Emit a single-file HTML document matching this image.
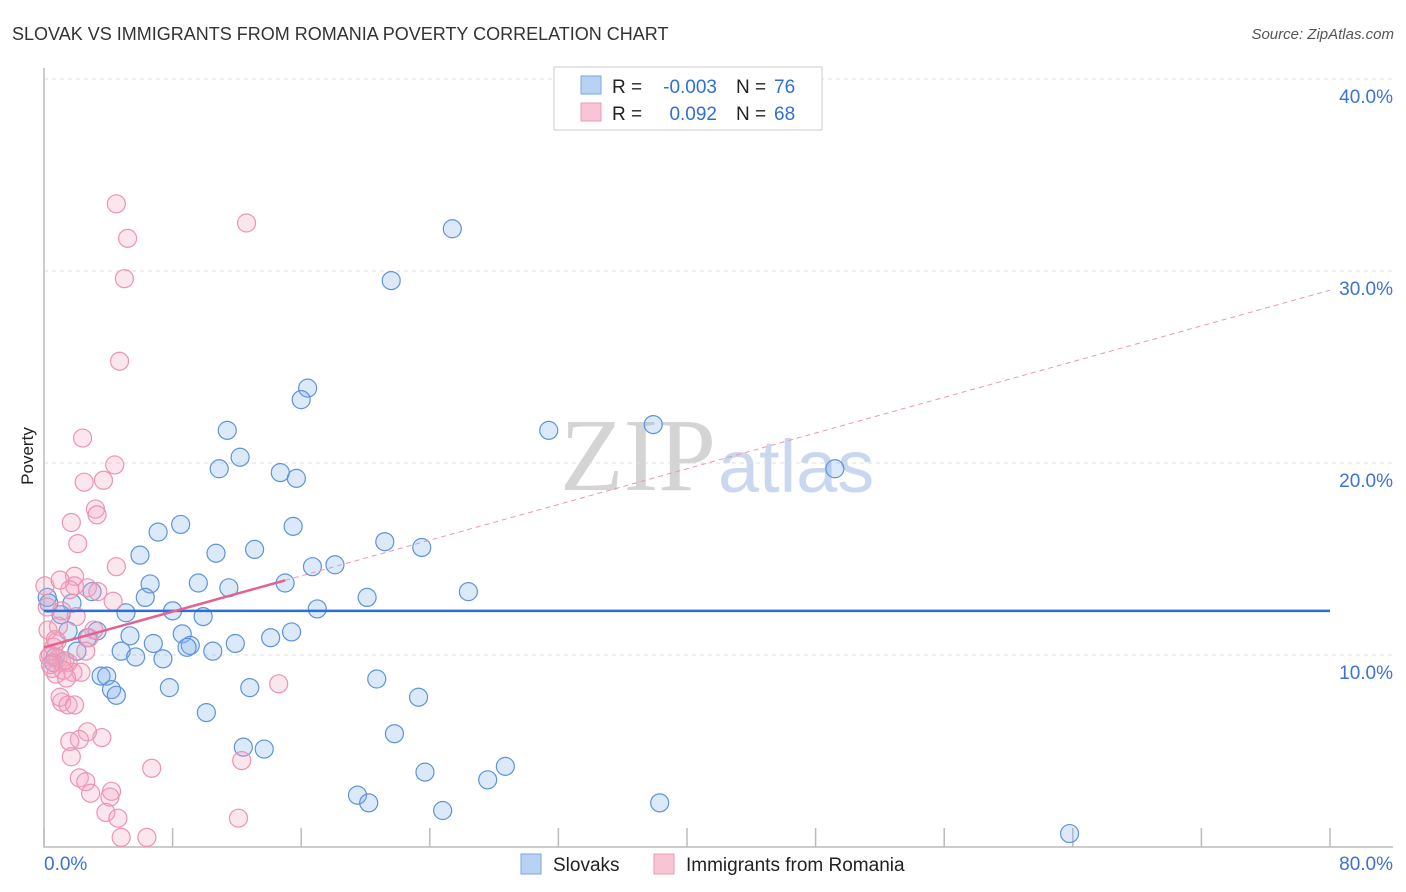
<!DOCTYPE html>
<html><head><meta charset="utf-8"><style>
body{margin:0;background:#fff;font-family:"Liberation Sans",sans-serif}
svg{display:block}
</style></head><body>
<svg width="1406" height="892" xmlns="http://www.w3.org/2000/svg">
<text x="12" y="40" font-size="18" fill="#333">SLOVAK VS IMMIGRANTS FROM ROMANIA POVERTY CORRELATION CHART</text>
<text x="1394" y="39" font-size="15" fill="#555" font-style="italic" text-anchor="end">Source: ZipAtlas.com</text>
<text x="716" y="490" font-size="104" fill="#d4d4d4" text-anchor="end" font-family="Liberation Serif">ZIP</text>
<text x="718" y="492" font-size="74" fill="#c9d8ee">atlas</text>
<g id="grid"></g>
<g id="axes"></g>
<g id="pts"></g>
<g id="lines"></g>
<text transform="translate(33,456) rotate(-90)" font-size="17" fill="#222" text-anchor="middle">Poverty</text>
<g>
<rect x="554" y="67" width="268" height="63" fill="#fff" stroke="#ccc"/>
<rect x="581" y="76" width="20" height="18" fill="#b8d2f3" stroke="#7aa6e0"/>
<rect x="581" y="103" width="20" height="18" fill="#f8c5d5" stroke="#eb9ab4"/>
<text x="612" y="93" font-size="19" fill="#222">R =</text>
<text x="717" y="93" font-size="19" fill="#2f6fd6" text-anchor="end">-0.003</text>
<text x="736" y="93" font-size="19" fill="#222">N =</text>
<text x="774" y="93" font-size="19" fill="#2f6fd6">76</text>
<text x="612" y="120" font-size="19" fill="#222">R =</text>
<text x="717" y="120" font-size="19" fill="#2f6fd6" text-anchor="end">0.092</text>
<text x="736" y="120" font-size="19" fill="#222">N =</text>
<text x="774" y="120" font-size="19" fill="#2f6fd6">68</text>
</g>
<g>
<rect x="521" y="854" width="20" height="20" fill="#b8d2f3" stroke="#7aa6e0"/>
<text x="553" y="871" font-size="19" fill="#222">Slovaks</text>
<rect x="654" y="854" width="20" height="20" fill="#f8c5d5" stroke="#eb9ab4"/>
<text x="686" y="871" font-size="19" fill="#222">Immigrants from Romania</text>
</g>
</svg>
<script>
const xTicks=[0,10,20,30,40,50,60,70,80];
const yTicks=[10,20,30,40];
const blueX=[25.4,21.6,16.4,16.0,11.4,31.4,37.9,12.2,10.9,14.7,15.7,49.2,8.5,7.1,15.5,5.97,10.7,13.1,21.2,23.5,16.7,18.1,6.6,9.6,11.5,15.0,2.99,6.3,26.4,20.1,1.74,5.1,8.0,9.9,17.0,1.06,1.5,3.3,2.7,5.35,8.6,6.8,9.1,11.9,14.1,15.4,2.05,4.8,5.7,7.4,8.9,10.5,0.7,3.55,3.9,4.2,4.5,7.8,12.8,20.7,23.3,10.1,12.4,13.7,21.8,23.7,27.6,28.7,19.5,20.2,24.8,38.3,63.8,0.3,0.2,0.6];
const blueY=[32.2,29.5,23.9,23.3,21.7,21.7,22.0,20.3,19.7,19.5,19.2,19.7,16.8,16.4,16.7,15.2,15.3,15.5,15.9,15.6,14.6,14.7,13.7,13.75,13.5,13.75,13.3,13.0,13.3,13.0,12.7,12.2,12.3,12.0,12.4,12.1,11.25,11.25,10.9,11.0,11.1,10.6,10.5,10.6,10.9,11.2,10.2,10.2,9.9,9.8,10.4,10.2,9.9,8.9,8.9,8.2,7.9,8.3,8.3,8.75,7.8,7.0,5.2,5.1,5.9,3.9,3.5,4.2,2.7,2.3,1.9,2.3,0.7,12.7,13.0,9.6];
const pinkX=[4.5,5.2,12.6,5.0,4.7,2.4,4.4,2.5,3.7,3.2,3.3,1.7,2.1,4.5,1.9,1.9,2.7,3.35,1.6,4.3,0.06,1.1,0.2,0.25,3.1,2.8,0.8,2.6,0.3,0.87,1.1,1.5,0.5,0.75,1.8,2.3,1.1,1.0,1.5,1.9,3.6,2.7,2.2,1.6,1.7,6.7,12.3,2.2,2.6,2.9,4.2,4.1,3.85,4.6,4.8,6.4,12.1,14.6,1.0,0.4,1.3,0.6,0.9,2.0,1.2,0.4,1.4,0.7];
const pinkY=[33.5,31.7,32.5,29.6,25.3,21.3,19.9,19.0,19.1,17.6,17.3,16.9,15.8,14.6,14.1,13.6,13.5,13.3,13.4,12.8,13.6,12.3,12.5,11.3,11.3,10.9,10.7,10.2,9.9,9.8,9.6,9.6,9.3,9.0,9.1,9.1,7.55,7.8,7.4,7.4,5.7,6.0,5.6,5.5,4.7,4.1,4.5,3.6,3.4,2.8,2.9,2.6,1.8,1.5,0.5,0.5,1.5,8.5,13.9,10.0,9.7,10.4,11.5,12.0,9.2,9.5,8.8,10.8];
const blueFit=[12.3,12.3];
const pinkFit=[10.4,29.0];
const X=v=>44+v*16.075, Y=v=>847-v*19.2;
const NS="http://www.w3.org/2000/svg";
function mk(tag,attrs,parent){const e=document.createElementNS(NS,tag);for(const k in attrs)e.setAttribute(k,attrs[k]);document.getElementById(parent).appendChild(e);return e;}
yTicks.forEach(t=>{
 const g=mk('line',{x1:44,x2:1393,y1:Y(t),y2:Y(t),stroke:'#ddd','stroke-dasharray':'4,4'},'grid');
 
 
 const l=mk('text',{x:1393,y:Y(t)+24,'font-size':19,fill:'#3b73d4','text-anchor':'end'},'grid');
 l.textContent=t.toFixed(1)+'%';
 
 
});
const ax=mk('path',{d:'M44,68V847H1393',stroke:'#bbb',fill:'none','stroke-width':1.5},'axes');


for(let i=0;i<=10;i++){const v=i*8;const t=mk('line',{x1:X(v),x2:X(v),y1:828,y2:847,stroke:'#bbb','stroke-width':1.5},'axes');
 
 }
[[0,'start',44],[80,'end',1393]].forEach(([v,a,x])=>{const t=mk('text',{x:x,y:870,'font-size':19,fill:'#3b73d4','text-anchor':a},'axes');t.textContent=v.toFixed(1)+'%';
 
 });
blueX.forEach((x,i)=>{const c=mk('circle',{cx:X(x),cy:Y(blueY[i]),r:9,fill:'rgba(130,175,235,0.28)',stroke:'#5d93dc','stroke-width':1.2},'pts');
 
 });
pinkX.forEach((x,i)=>{const c=mk('circle',{cx:X(x),cy:Y(pinkY[i]),r:9,fill:'rgba(245,165,195,0.28)',stroke:'#ec93b0','stroke-width':1.2},'pts');
 
 });
const bl=mk('line',{x1:X(0),x2:X(80),y1:Y(blueFit[0]),y2:Y(blueFit[1]),stroke:'#2a6fd6','stroke-width':2.5},'lines');


const pv=x=>pinkFit[0]+(pinkFit[1]-pinkFit[0])*x/80;
const pl=mk('line',{x1:X(0),x2:X(15),y1:Y(pv(0)),y2:Y(pv(15)),stroke:'#e2648e','stroke-width':2.5},'lines');


const pd=mk('line',{x1:X(15),x2:X(80),y1:Y(pv(15)),y2:Y(pv(80)),stroke:'#e898b3','stroke-width':1,'stroke-dasharray':'5,4'},'lines');


</script>
</body></html>
